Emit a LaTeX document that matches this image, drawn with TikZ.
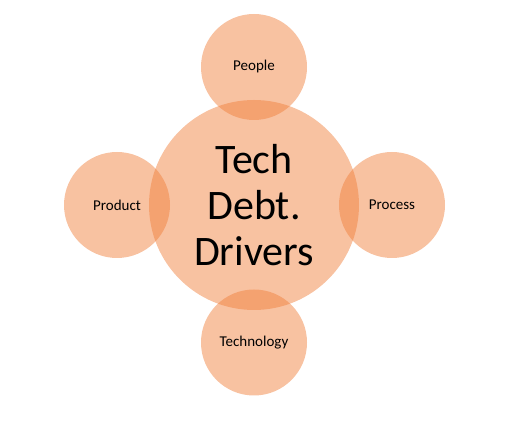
\documentclass[tikz,border=0pt]{standalone}
\usepackage{fontspec}
\setmainfont{Carlito}
\definecolor{blobfill}{RGB}{240,127,59}
\begin{document}
\begin{tikzpicture}[x=1pt,y=1pt,
  blob/.style={circle, fill=blobfill, fill opacity=0.48, text opacity=1, inner sep=0pt, align=center},
  small/.style={blob, minimum size=106pt, font=\fontsize{15}{18}\selectfont},
  big/.style={blob, minimum size=210pt, font=\fontsize{42}{46}\selectfont}]
\useasboundingbox (0,0) rectangle (506,433);
\node[big] (center) at (254,228) {Tech\\Debt.\\Drivers};
\node[small] (people) at (254,366) {People};
\node[small] (product) at (117,228) {Product};
\node[small] (process) at (392,228) {Process};
\node[small] (tech) at (254,90.5) {Technology};
\end{tikzpicture}
\end{document}
